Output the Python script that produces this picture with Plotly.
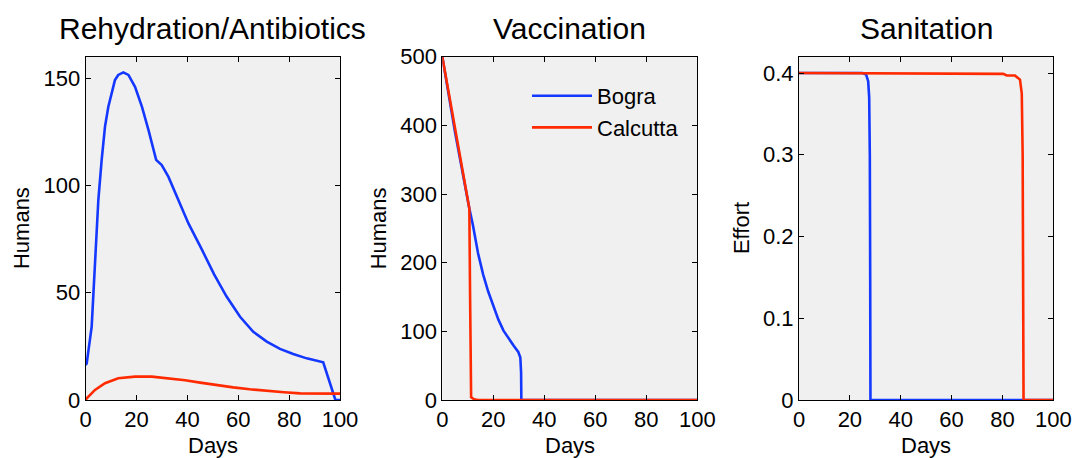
import plotly.graph_objects as go

# ---------------- data ----------------
days_rehyd_bogra = [0, 0.4, 2.35, 3.66, 4.97, 6.28, 7.59, 8.9, 10.2, 11.5, 12.8, 14.8, 16.8,
                    19.4, 22.1, 24.7, 27.7, 29.9, 32.5, 36.4, 40.4, 45.3, 50.5, 55.4, 60.7,
                    65.9, 71.2, 76.4, 81.6, 86.9, 93.4, 98.2, 100]
rehyd_bogra = [16.3, 17.1, 34.2, 65.3, 93.2, 111.9, 127.4, 136.7, 143.7, 149.1, 151.5, 152.7,
               151.5, 146, 136.7, 125.8, 111.9, 109.5, 104.1, 93.2, 82.3, 71.0, 58.6, 48.2,
               38.8, 31.8, 27.2, 23.8, 21.4, 19.4, 17.6, 0, 0]
days_rehyd_calc = [0, 0.4, 3.66, 7.59, 12.8, 19.4, 26, 32.5, 39.1, 45, 50.8, 58, 64.5, 71.2,
                   78, 84.3, 90, 100]
rehyd_calc = [0, 0.8, 4.7, 7.8, 10.1, 10.9, 10.9, 10.2, 9.2, 8.1, 7.0, 5.9, 5.0, 4.2,
              3.6, 3.1, 2.95, 2.95]

days_vacc_bogra = [0, 5, 10.6, 12, 14, 16, 18, 20, 22, 24, 26, 28, 29.8, 30.6, 30.9, 31, 100]
vacc_bogra = [500, 390, 279, 255, 214, 183, 158, 137, 117, 101, 89, 79, 70, 62, 40, 0, 0]
days_vacc_calc = [0, 5, 10.6, 10.9, 11.0, 11.3, 12.5, 14, 100]
vacc_calc = [500, 395, 279, 150, 20, 4, 1, 0, 0]

days_san_bogra = [0, 25, 26.4, 27.2, 27.6, 27.85, 28.0, 28.1, 100]
san_bogra = [0.4, 0.4, 0.398, 0.39, 0.37, 0.3, 0.15, 0, 0]
days_san_calc = [0, 70, 80.3, 81.7, 84.9, 86.9, 87.6, 87.95, 88.15, 88.3, 100]
san_calc = [0.4, 0.399, 0.399, 0.397, 0.397, 0.392, 0.375, 0.3, 0.15, 0, 0]

titles = ["Rehydration/Antibiotics", "Vaccination", "Sanitation"]
ylabels = ["Humans", "Humans", "Effort"]
x_ticks = [0, 20, 40, 60, 80, 100]
y_ticks = [[0, 50, 100, 150], [0, 100, 200, 300, 400, 500], [0, 0.1, 0.2, 0.3, 0.4]]
y_ticktext = [["0", "50", "100", "150"], ["0", "100", "200", "300", "400", "500"],
              ["0", "0.1", "0.2", "0.3", "0.4"]]
y_ranges = [[0, 160], [0, 500], [0, 0.42]]
series_names = ["Bogra", "Calcutta"]

# ---------------- style ----------------
W, H = 1075, 458
BLUE = "#1438ff"
RED = "#ff2a00"
FONT = "Liberation Sans, Helvetica, Arial, sans-serif"
panels_px = [(85.7, 340.0), (442.3, 697.3), (799.0, 1053.3)]
ytop_px, ybot_px = 56.7, 400.0
ydom = [(H - ybot_px) / H, (H - ytop_px) / H]
ylab_x_px = [21.7, 378.0, 741.7]

fig = go.Figure()

data = [
    (days_rehyd_bogra, rehyd_bogra, days_rehyd_calc, rehyd_calc),
    (days_vacc_bogra, vacc_bogra, days_vacc_calc, vacc_calc),
    (days_san_bogra, san_bogra, days_san_calc, san_calc),
]

for i, (xb, yb, xc, yc) in enumerate(data):
    suffix = "" if i == 0 else str(i + 1)
    show = (i == 1)
    fig.add_trace(go.Scatter(x=xb, y=yb, mode="lines", name=series_names[0],
                             line=dict(color=BLUE, width=2.6),
                             xaxis="x" + suffix, yaxis="y" + suffix,
                             showlegend=show, legendgroup="b"))
    fig.add_trace(go.Scatter(x=xc, y=yc, mode="lines", name=series_names[1],
                             line=dict(color=RED, width=2.6),
                             xaxis="x" + suffix, yaxis="y" + suffix,
                             showlegend=show, legendgroup="c"))

layout = dict(
    width=W, height=H,
    margin=dict(l=0, r=0, t=0, b=0, pad=0, autoexpand=False),
    paper_bgcolor="white",
    plot_bgcolor="#f0f0f0",
    font=dict(family=FONT, size=22, color="black"),
    showlegend=True,
    legend=dict(x=(535 - 8) / W, y=(H - 75) / H, xanchor="left", yanchor="top",
                bgcolor="rgba(0,0,0,0)", borderwidth=0,
                font=dict(size=22, family=FONT), itemwidth=60,
                tracegroupgap=0),
    annotations=[],
)

axis_common = dict(showline=True, linecolor="black", linewidth=1, mirror="ticks",
                   ticks="inside", ticklen=5, tickcolor="black", tickwidth=1,
                   showgrid=False, zeroline=False, automargin=False,
                   tickfont=dict(size=22, family=FONT, color="black"))

for i in range(3):
    suffix = "" if i == 0 else str(i + 1)
    x0, x1 = panels_px[i]
    layout["xaxis" + suffix] = dict(domain=[x0 / W, x1 / W], range=[0, 100],
                                    tickvals=x_ticks, anchor="y" + suffix,
                                    **axis_common)
    layout["yaxis" + suffix] = dict(domain=ydom, range=y_ranges[i],
                                    tickvals=y_ticks[i], ticktext=y_ticktext[i],
                                    anchor="x" + suffix, **axis_common)
    cx = (x0 + x1) / 2
    layout["annotations"].append(dict(text=titles[i], x=cx / W, y=(H - 28) / H,
                                      xref="paper", yref="paper", showarrow=False,
                                      xanchor="center", yanchor="middle",
                                      font=dict(size=30, family=FONT, color="black")))
    layout["annotations"].append(dict(text="Days", x=cx / W, y=(H - 445) / H,
                                      xref="paper", yref="paper", showarrow=False,
                                      xanchor="center", yanchor="middle",
                                      font=dict(size=22, family=FONT, color="black")))
    layout["annotations"].append(dict(text=ylabels[i], x=ylab_x_px[i] / W,
                                      y=(H - (ytop_px + ybot_px) / 2) / H,
                                      xref="paper", yref="paper", showarrow=False,
                                      xanchor="center", yanchor="middle", textangle=-90,
                                      font=dict(size=22, family=FONT, color="black")))

fig.update_layout(**layout)
fig.write_html("out.html",
               post_script="document.body.style.margin='0';document.body.style.overflow='hidden';")
